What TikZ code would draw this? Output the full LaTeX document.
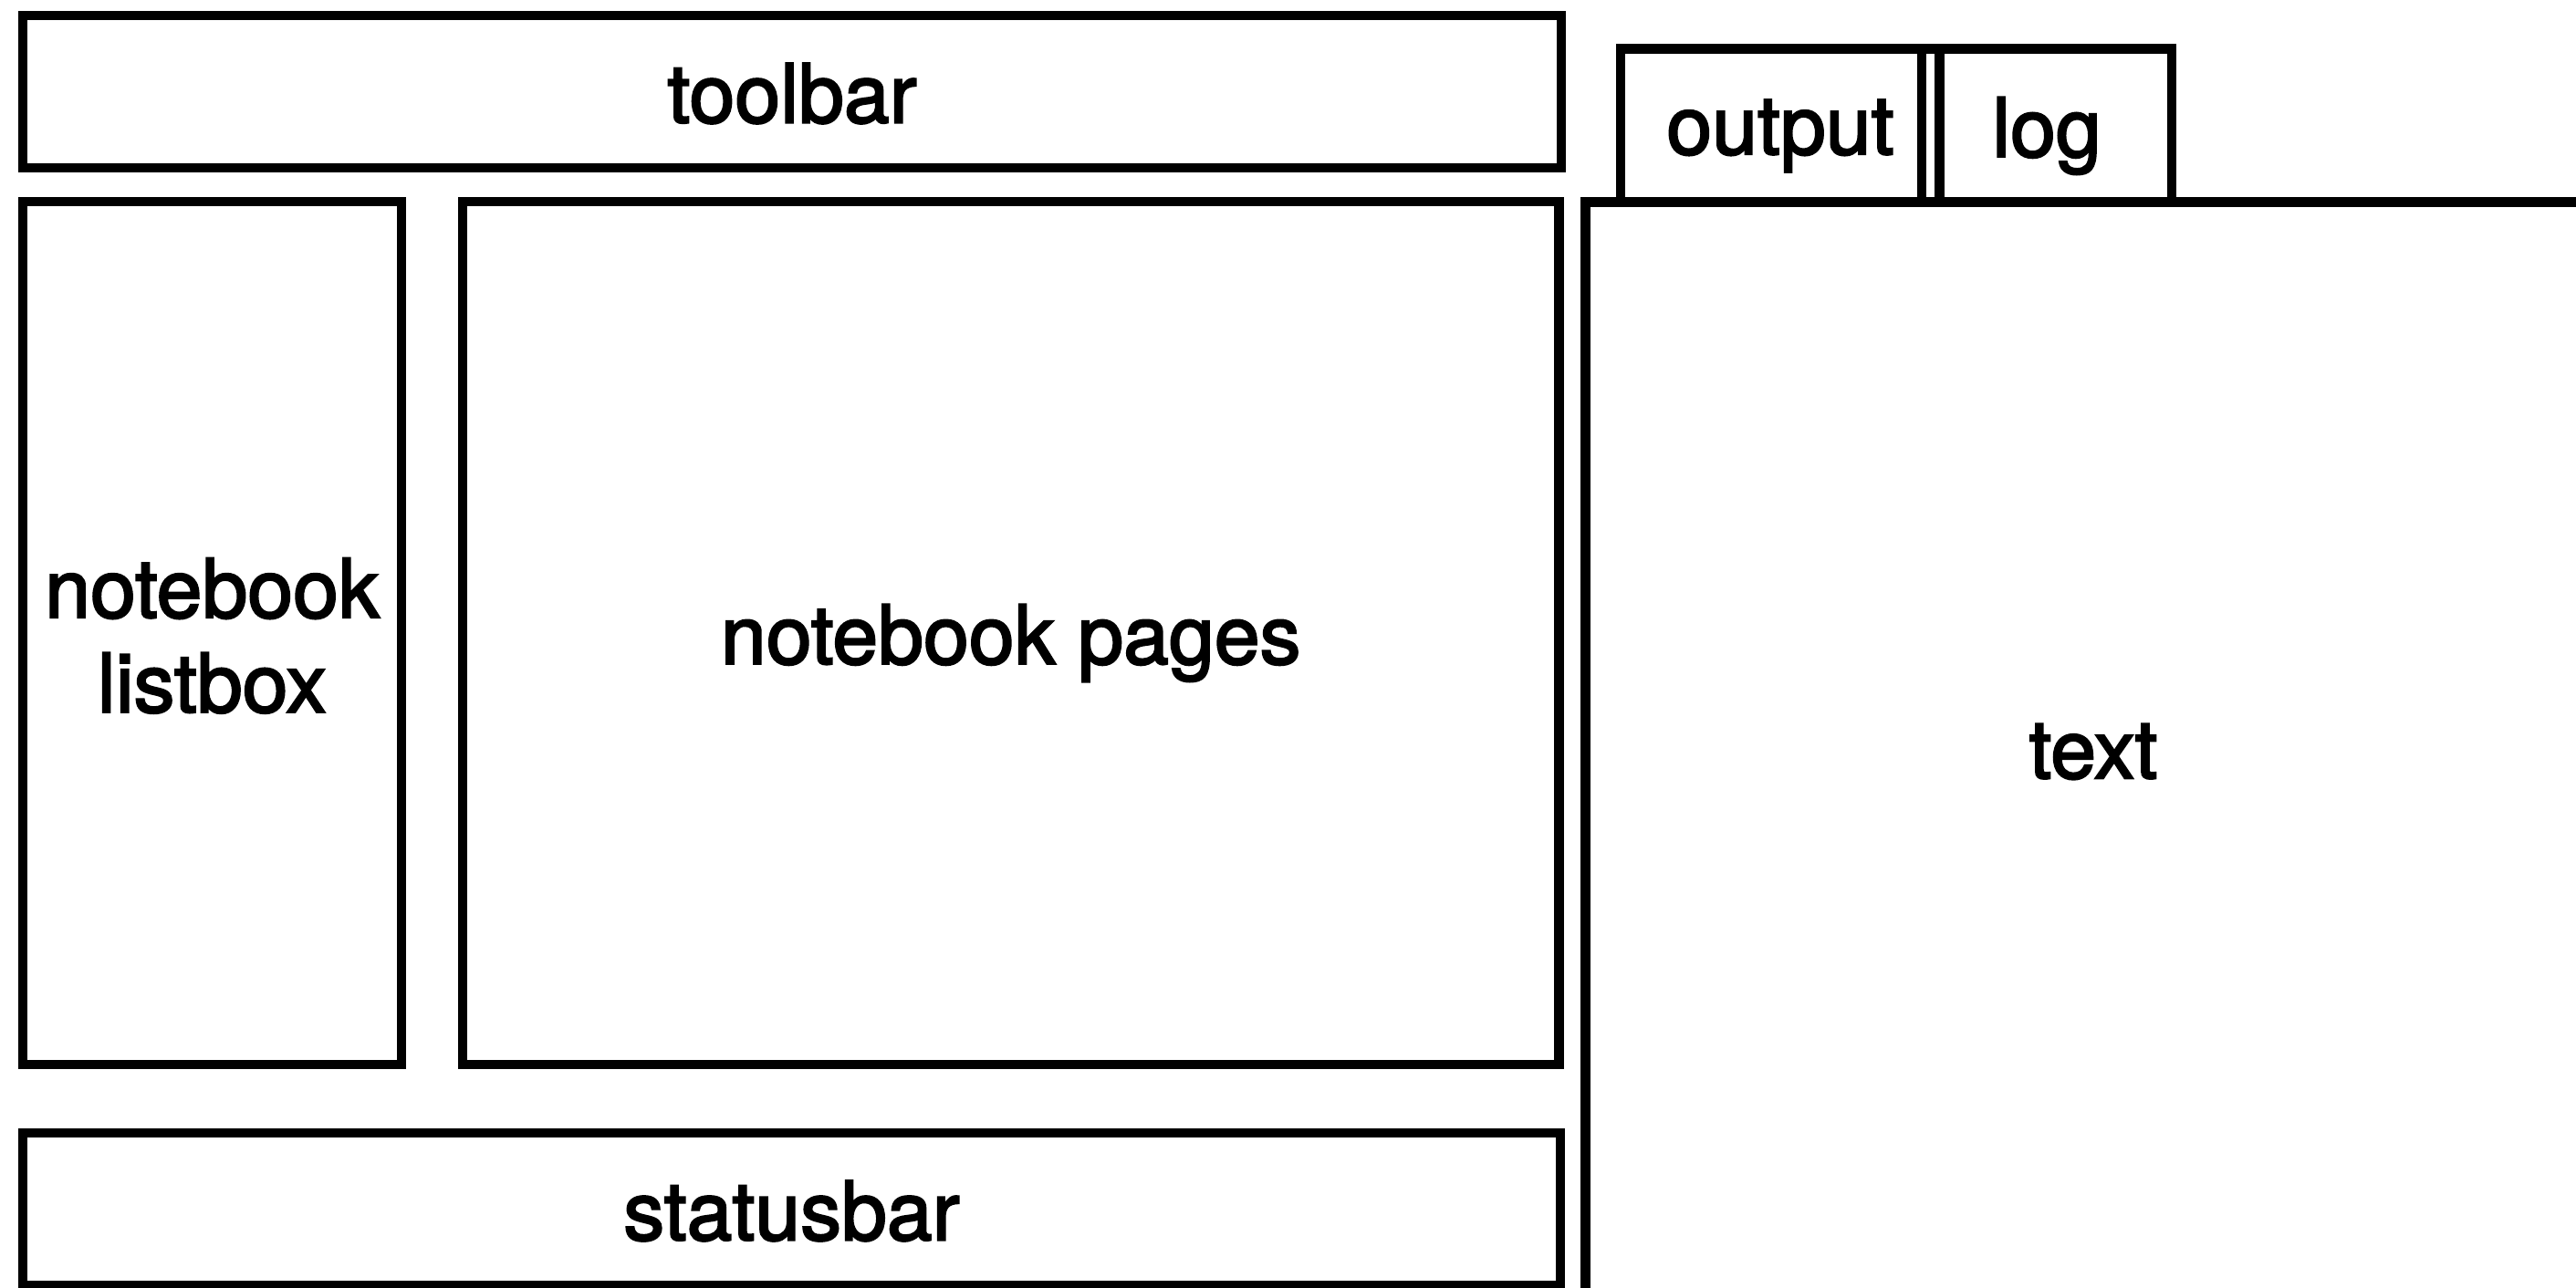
\documentclass[tikz,border=0pt]{standalone}
\usepackage{fontspec}
\setmainfont{TeX Gyre Heros}[FakeBold=2.4]
\begin{document}
\begin{tikzpicture}[
  frame/.style={draw=black, line width=3pt, rectangle, inner sep=0pt, outer sep=0pt},
  lbl/.style={inner sep=0pt, align=center, font=\fontsize{25.5}{29.5}\selectfont}
]
\useasboundingbox (0,0) rectangle (28.23,14.11);

% left column: toolbar, listbox, pages, statusbar
\node[frame, minimum width=16.86cm, minimum height=1.67cm] (toolbar) at (8.68,13.105) {};
\node[frame, minimum width=4.15cm, minimum height=9.46cm] (listbox) at (2.325,7.17) {};
\node[frame, minimum width=12.015cm, minimum height=9.46cm] (pages) at (11.0775,7.17) {};
\node[frame, minimum width=16.85cm, minimum height=1.67cm] (statusbar) at (8.675,0.855) {};

\node[lbl] (toolbarlbl) at ([yshift=-0.02cm]toolbar.center) {toolbar};
\node[lbl] (listboxlbl) at ([yshift=-0.03cm]listbox.center) {notebook\\listbox};
\node[lbl] (pageslbl) at ([yshift=-0.11cm]pages.center) {notebook pages};
\node[lbl] (statusbarlbl) at ([yshift=-0.02cm]statusbar.center) {statusbar};

% right side: open frame holding the text area
\coordinate (tfbottom) at (17.375,-0.3);
\coordinate (tfcorner) at (17.375,11.895);
\coordinate (tfright) at (28.6,11.895);
\draw[line width=3pt] (tfbottom) -- (tfcorner) -- (tfright);
\node[lbl] (text) at (22.94,5.87) {text};

% tabs above the text area
\node[frame, minimum width=3.30cm, minimum height=1.68cm] (output) at (19.41,12.735) {};
\node[frame, minimum width=2.545cm, minimum height=1.68cm] (log) at (22.5275,12.735) {};
\draw[line width=3pt] (output.north west) -- (log.north east);
\node[lbl] (outputlbl) at (19.51,12.62) {output};
\node[lbl] (loglbl) at (22.43,12.62) {log};
\end{tikzpicture}
\end{document}
